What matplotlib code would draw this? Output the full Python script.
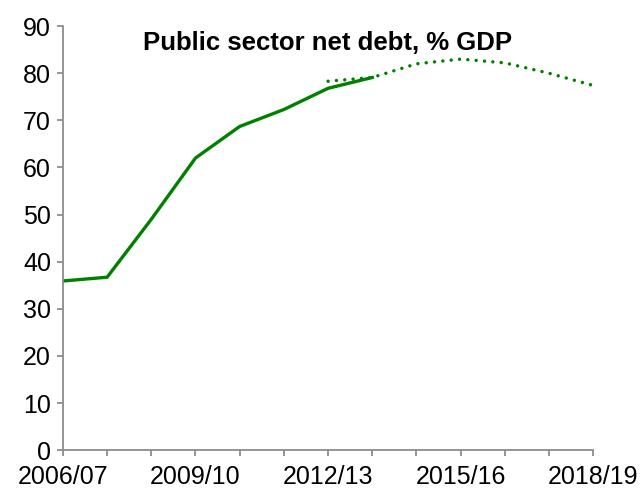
import matplotlib.pyplot as plt

plt.rcParams['font.family'] = ['Liberation Sans', 'DejaVu Sans']

# Fiscal years on the x axis
years = ['2006/07', '2007/08', '2008/09', '2009/10', '2010/11', '2011/12',
         '2012/13', '2013/14', '2014/15', '2015/16', '2016/17', '2017/18',
         '2018/19']

# Outturn (solid) and forecast (dotted), % of GDP
outturn = [35.9, 36.7, 49.0, 62.0, 68.7, 72.3, 76.8, 79.1]
forecast_years = years[6:]
forecast = [78.3, 79.1, 82.0, 83.0, 82.2, 80.0, 77.4]

green = '#008000'
axis_grey = '#8c8c8c'

fig = plt.figure(figsize=(6.42, 4.93), dpi=100)
ax = fig.add_axes([0.098, 0.087, 0.826, 0.86])

x_all = list(range(len(years)))
x_out = x_all[:len(outturn)]
x_fc = [years.index(y) for y in forecast_years]

ax.plot(x_out, outturn, color=green, lw=2.4, solid_joinstyle='miter')
ax.plot(x_fc, forecast, color=green, lw=2.5, linestyle=(0, (0.01, 2.4)),
        dash_capstyle='round')

ax.set_xlim(0, len(years) - 1)
ax.set_ylim(0, 90)
ax.set_yticks(range(0, 91, 10))
ax.set_xticks(x_all)
ax.set_xticklabels([y if i % 3 == 0 else '' for i, y in enumerate(years)])

for side in ['top', 'right']:
    ax.spines[side].set_visible(False)
for side in ['left', 'bottom']:
    ax.spines[side].set_color(axis_grey)
    ax.spines[side].set_linewidth(1.3)

ax.tick_params(axis='both', colors=axis_grey, width=1.3, length=4.5,
               labelcolor='black', labelsize=18)
ax.tick_params(axis='y', pad=4)
ax.tick_params(axis='x', pad=6)

ax.text(0.5, 0.96, 'Public sector net debt, % GDP', transform=ax.transAxes,
        ha='center', va='center', fontsize=18.5, fontweight='bold')

fig.savefig('out.png', dpi=100)
